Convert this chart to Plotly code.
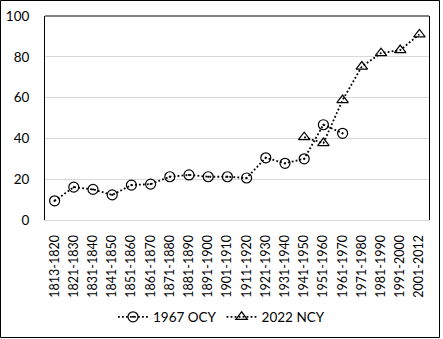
import plotly.graph_objects as go

periods = ["1813-1820", "1821-1830", "1831-1840", "1841-1850", "1851-1860",
           "1861-1870", "1871-1880", "1881-1890", "1891-1900", "1901-1910",
           "1911-1920", "1921-1930", "1931-1940", "1941-1950", "1951-1960",
           "1961-1970", "1971-1980", "1981-1990", "1991-2000", "2001-2012"]

ocy_1967 = [9.4, 16.1, 15.0, 12.3, 17.1, 17.6, 21.2, 22.1, 21.2, 21.2,
            20.6, 30.5, 27.8, 30.0, 46.7, 42.5, None, None, None, None]

ncy_2022 = [None, None, None, None, None, None, None, None, None, None,
            None, None, None, 40.6, 37.7, 58.8, 75.2, 81.8, 83.3, 91.0]

y_ticks = [0, 20, 40, 60, 80, 100]

FONT = "Lato"
W, H = 443, 339
L, R, T, B = 45, 14, 16, 119

DOTTED = dict(color="black", width=1.8, dash="1.8px,2.2px")

fig = go.Figure()
fig.add_trace(go.Scatter(
    x=periods, y=ocy_1967, name="1967 OCY", mode="lines+markers",
    line=DOTTED,
    marker=dict(symbol="circle-open-dot", size=10, color="black",
                line=dict(color="black", width=1.2)),
    connectgaps=False,
))
fig.add_trace(go.Scatter(
    x=periods, y=ncy_2022, name="2022 NCY", mode="lines+markers",
    line=DOTTED,
    marker=dict(symbol="triangle-up-open", size=10, color="black",
                line=dict(color="black", width=1.2)),
    connectgaps=False,
))

pw = W - L - R
ph = H - T - B


def px_x(v):
    return (v - L) / pw


def px_y(v):
    return (H - B - v) / ph


shapes = [
    # outer chart frame
    dict(type="rect", xref="paper", yref="paper",
         x0=px_x(0.5), x1=px_x(439.5), y0=px_y(337.5), y1=px_y(0.5),
         line=dict(color="black", width=1), layer="above"),
    # top edge of the plot area
    dict(type="line", xref="paper", yref="paper",
         x0=0, x1=1, y0=1, y1=1,
         line=dict(color="black", width=1), layer="above"),
]

fig.update_layout(
    width=W, height=H,
    margin=dict(l=L, r=R, t=T, b=B, pad=0, autoexpand=False),
    paper_bgcolor="white", plot_bgcolor="white",
    font=dict(family=FONT, size=13, color="black"),
    showlegend=True,
    legend=dict(orientation="h", xref="container", yref="container",
                x=0.5, xanchor="center", y=1 - 317 / H, yanchor="middle",
                font=dict(family=FONT, size=13.5, color="black"),
                itemwidth=30, bgcolor="rgba(0,0,0,0)"),
    shapes=shapes,
)

fig.update_xaxes(
    type="category", range=[-0.5, len(periods) - 0.5],
    tickangle=-90, showgrid=False,
    showline=True, linecolor="#d9d9d9", linewidth=1,
    ticks="", ticklabelstandoff=9,
    tickfont=dict(family=FONT, size=12.5, color="black"),
)
fig.update_yaxes(
    range=[0, 100], tickvals=y_ticks,
    showgrid=True, gridcolor="#d9d9d9", gridwidth=1,
    zeroline=False,
    showline=True, linecolor="black", linewidth=1, mirror=True,
    ticks="", ticklabelstandoff=12,
    tickfont=dict(family=FONT, size=13.5, color="black"),
)

fig.write_html("out.html")
